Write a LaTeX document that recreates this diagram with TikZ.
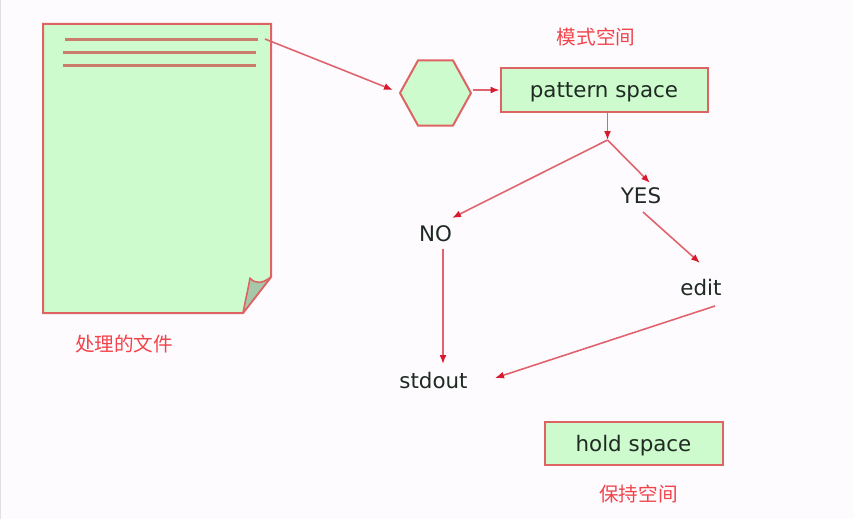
\documentclass[tikz,border=0pt]{standalone}
\usepackage{fontspec}
\setmainfont{DejaVu Sans}
\newfontfamily\cjk{Noto Sans CJK SC}
\usetikzlibrary{arrows.meta}
\definecolor{bgc}{HTML}{FEFBFF}
\definecolor{fillg}{HTML}{CEFBCE}
\definecolor{edgec}{HTML}{DE6464}
\definecolor{linec}{HTML}{E0646E}
\definecolor{tipc}{HTML}{D81A2E}
\definecolor{rulec}{HTML}{CC7C6C}
\definecolor{foldc}{HTML}{A6C8A8}
\definecolor{redt}{HTML}{F0444A}
\definecolor{inkc}{HTML}{1E2A22}
\tikzset{
  shapeg/.style={draw=edgec,fill=fillg,line width=2pt},
  boxn/.style={shapeg,rectangle,inner sep=0pt,text=inkc,text height=20pt,text depth=4.5pt,font=\fontsize{21.4pt}{24pt}\selectfont},
  lab/.style={inner sep=0pt,text=inkc,font=\fontsize{21.4pt}{24pt}\selectfont},
  cn/.style={inner sep=0pt,text=redt,font=\cjk\fontsize{19.6pt}{22pt}\selectfont},
  conn/.style={draw=linec,line width=1.6pt,-{Latex[length=9pt,width=7pt,color=tipc]}},
  rule/.style={draw=rulec,line width=2.6pt}
}
\begin{document}
\begin{tikzpicture}[x=1pt,y=-1pt]
\useasboundingbox (0,0) rectangle (854,519);
\fill[bgc] (0,0) rectangle (854,519);
\draw[black!12,line width=1pt] (0.5,0) -- (0.5,519);
% page
\path[shapeg] (43,24) -- (271,24) -- (271,277) -- (243,313) -- (43,313) -- cycle;
\path[draw=edgec,fill=foldc,line width=1.6pt,line join=round] (271,277) .. controls (262,284) and (255,284) .. (250,278) .. controls (248,290) and (245,302) .. (243,313) -- cycle;
\draw[rule] (65,39.5) -- (258,39.5);
\draw[rule] (63,52.5) -- (256,52.5);
\draw[rule] (63,65.5) -- (256,65.5);
\coordinate (pagearrow) at (265,39);
% hexagon
\path[shapeg] (400,93) -- (418,60.5) -- (453,60.5) -- (471,93) -- (453,125.5) -- (418,125.5) -- cycle;
\coordinate (hexl) at (393,90);
\coordinate (hexr) at (473,90);
% nodes
\node[boxn,minimum width=207pt,minimum height=43pt] (ps) at (604,90) {pattern space};
\node[boxn,minimum width=178pt,minimum height=43pt] (hs) at (633.5,443.5) {hold space};
\coordinate (fork) at (607.5,140);
\node[lab] (yes) at (641,196) {YES};
\node[lab] (no) at (435.5,234) {NO};
\node[lab] (edit) at (701,288) {edit};
\node[lab] (stdout) at (433.5,381) {stdout};
\node[cn] (c1) at (596,37) {模式空间};
\node[cn] (c2) at (124,344) {处理的文件};
\node[cn] (c3) at (638.5,494) {保持空间};
% connectors
\draw[conn] (pagearrow) -- (hexl);
\draw[conn] (hexr) -- (ps.west);
\draw[conn] (ps.south -| fork) -- (fork);
\coordinate (n0) at (452,218);
\coordinate (y0) at (650,183);
\draw[conn] (fork) -- (n0);
\draw[conn] (fork) -- (y0);
\coordinate (y2) at (643,212);
\coordinate (e1) at (700,263);
\draw[conn] (y2) -- (e1);
\coordinate (n1) at (443,249);
\coordinate (s1) at (443,364);
\draw[conn] (n1) -- (s1);
\coordinate (e2) at (715,306);
\coordinate (s2) at (495,378);
\draw[conn] (e2) -- (s2);
\end{tikzpicture}
\end{document}
